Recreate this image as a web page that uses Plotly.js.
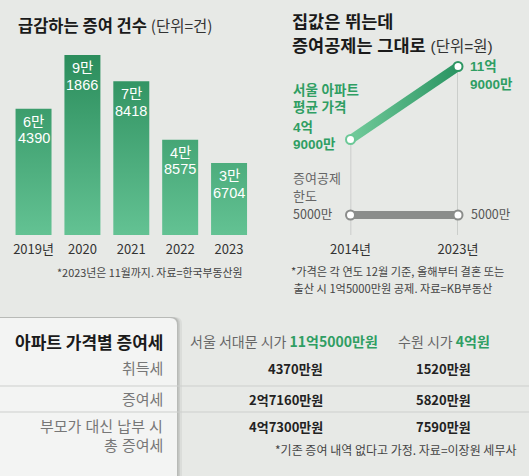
<!DOCTYPE html>
<html>
<head>
<meta charset="utf-8">
<script src="https://cdn.plot.ly/plotly-3.0.1.min.js"></script>
<style>
  html, body { margin: 0; padding: 0; background: #e7e9e6; }
  #chart { width: 529px; height: 476px; }
</style>
</head>
<body>
<div id="chart"></div>
<script>
// 연도별 증여 건수 (단위=건)
const years = ['2019', '2020', '2021', '2022', '2023'];
const yearTicks = ['2019년', '2020', '2021', '2022', '2023'];
const giftCounts = [64390, 91866, 78418, 48575, 36704];

// 서울 아파트 평균 가격과 증여공제 한도 (단위=만원)
const priceYears = [2014, 2023];
const priceTicks = ['2014년', '2023년'];
const seoulAptPrice = [49000, 119000];
const giftDeduction = [5000, 5000];

// 아파트 가격별 증여세 (단위=만원)
const taxRows = [['취득세'], ['증여세'], ['부모가 대신 납부 시', '총 증여세']];
const aptNames = ['서울 서대문 시가', '수원 시가'];
const aptPrices = [115000, 40000];
const seodaemunTax = [4370, 27160, 47300];
const suwonTax = [1520, 5820, 7590];

const W = 529, H = 476;
const px = x => x / W;
const py = y => 1 - y / H;

const FONT = 'Noto Sans CJK KR, Noto Sans, sans-serif';
// 촘촘한 여러 줄 라벨용: 숫자는 라틴 글꼴, 한글은 CJK 글꼴로
const MIX = 'Liberation Sans, Noto Sans CJK KR, sans-serif';
const GREEN = '#2f9e63';

function wonParts(v) {
  const eok = Math.floor(v / 10000), man = v % 10000;
  if (eok === 0) return [man + '만'];
  return man ? [eok + '억', man + '만'] : [eok + '억'];
}
const wonLabel = v => wonParts(v).join('');

// 막대 차트 배치
const barBottom = 235, barTopRef = 55;          // 가장 큰 막대의 윗변 위치
const yMax = 100000;
const yTopPx = barBottom - (barBottom - barTopRef) * yMax / Math.max(...giftCounts);

// 선 차트 배치 (가격축)
const lineBottom = 235, lineTop = 60;
const pLow = 139.5, pHigh = 66.5;               // 가격 두 점의 세로 위치
const perPx = (seoulAptPrice[1] - seoulAptPrice[0]) / (pLow - pHigh);
const priceMin = seoulAptPrice[0] - (lineBottom - pLow) * perPx;
const priceMax = seoulAptPrice[1] + (pHigh - lineTop) * perPx;
// 공제 한도 축
const dedY = 215;
const dedMax = giftDeduction[0] * (lineBottom - lineTop) / (lineBottom - dedY);

const traces = [
  {
    type: 'bar', x: years, y: giftCounts, xaxis: 'x', yaxis: 'y',
    marker: { color: '#3fa572', line: { width: 0 } },
    hoverinfo: 'skip'
  },
  {
    type: 'scatter', mode: 'lines+markers', x: priceYears, y: seoulAptPrice,
    xaxis: 'x2', yaxis: 'y2', cliponaxis: false,
    line: { color: '#45ad78', width: 9 },
    marker: { size: 9, color: '#ffffff', line: { width: 2, color: ['#6cc897', '#2e9663'] } },
    hoverinfo: 'skip'
  },
  {
    type: 'scatter', mode: 'lines+markers', x: priceYears, y: giftDeduction,
    xaxis: 'x2', yaxis: 'y3', cliponaxis: false,
    line: { color: '#8b8d8b', width: 8 },
    marker: { size: 9, color: '#ffffff', line: { width: 2, color: '#8b8d8b' } },
    hoverinfo: 'skip'
  }
];

const shapes = [];
// 각 연도 가격에서 내려오는 세로선
priceYears.forEach((yr, i) => {
  shapes.push({
    type: 'line', xref: 'x2', yref: 'y2', layer: 'below',
    x0: yr, x1: yr, y0: seoulAptPrice[i], y1: priceMin,
    line: { color: '#c2c4c2', width: 1.5 }
  });
});

// 표: 왼쪽 패널 그림자와 패널
const pl = 0, pr = 177, pt = 318, pb = 476, rad = 7;
function panelPath(dy, extra) {
  const r = px(pr + extra), t = py(pt + dy), b = py(pb), l = px(pl);
  const rx = rad / W, ry = rad / H;
  return `M ${l},${b} L ${l},${t} L ${r - rx},${t} Q ${r},${t} ${r},${t - ry} L ${r},${b} Z`;
}
[[5, 0.05], [3, 0.07], [1.5, 0.09]].forEach(([o, a]) => {
  shapes.push({
    type: 'path', xref: 'paper', yref: 'paper', layer: 'below',
    path: panelPath(-1, o), fillcolor: `rgba(0,0,0,${a})`, line: { width: 0 }
  });
});
shapes.push({
  type: 'path', xref: 'paper', yref: 'paper', layer: 'below',
  path: panelPath(0, 0), fillcolor: '#f3f4f3', line: { width: 0 }
});
// 표 행 구분선
[386, 412].forEach(y => {
  shapes.push({
    type: 'line', xref: 'paper', yref: 'paper', layer: 'below',
    x0: 0, x1: 1, y0: py(y), y1: py(y),
    line: { color: '#cdcfcd', width: 1 }
  });
});

const ann = [];
function A(text, x, y, opts) {
  ann.push(Object.assign({
    text, x: px(x), y: py(y), xref: 'paper', yref: 'paper',
    xanchor: 'left', yanchor: 'middle', showarrow: false,
    font: { family: FONT, size: 13, color: '#222' }
  }, opts || {}));
}
// 여러 줄 라벨은 줄마다 따로 놓는다
function lines(arr, x, yFirst, gap, opts) {
  arr.forEach((t, k) => A(t, x, yFirst + k * gap, opts));
}

// 막대 안쪽 값 (만 단위 / 나머지)
giftCounts.forEach((v, i) => {
  const parts = [Math.floor(v / 10000) + '만', String(v % 10000).padStart(4, '0')];
  parts.forEach((t, k) => {
    ann.push({
      text: t, x: i, y: v, xref: 'x', yref: 'y', xanchor: 'center', yanchor: 'top',
      yshift: -3 - k * 16.5, showarrow: false,
      font: { family: MIX, size: 14.5, color: '#ffffff' }
    });
  });
});

// 제목
A('<b>급감하는 증여 건수</b> <span style="font-size:15.5px;color:#333">(단위=건)</span>', 16, 25,
  { font: { family: FONT, size: 16.5, color: '#1a1a1a' } });
A('*2023년은 11월까지. 자료=한국부동산원', 150, 272,
  { xanchor: 'center', font: { family: FONT, size: 10.9, color: '#444' } });

A('<b>집값은 뛰는데</b>', 290, 22, { font: { family: MIX, size: 17.5, color: '#1a1a1a' } });
A('<b>증여공제는 그대로</b> <span style="font-size:15.5px;color:#333">(단위=원)</span>', 290, 46,
  { font: { family: MIX, size: 17.5, color: '#1a1a1a' } });

// 선 차트 라벨
const greenBold = { font: { family: MIX, size: 13.5, color: GREEN } };
lines(['<b>서울 아파트</b>', '<b>평균 가격</b>'], 291, 90, 18, greenBold);
lines(wonParts(seoulAptPrice[0]).map(t => '<b>' + t + '</b>'), 291, 128, 16, greenBold);
lines(wonParts(seoulAptPrice[1]).map(t => '<b>' + t + '</b>'), 468, 67, 17, greenBold);
lines(['증여공제', '한도'], 291, 178, 18, { font: { family: MIX, size: 13, color: '#666' } });
A(wonLabel(giftDeduction[0]), 291, 214, { font: { family: FONT, size: 12.5, color: '#555' } });
A(wonLabel(giftDeduction[1]), 469, 214, { font: { family: FONT, size: 12.5, color: '#555' } });
lines(['*가격은 각 연도 12월 기준, 올해부터 결혼 또는', ' 출산 시 1억5000만원 공제. 자료=KB부동산'],
  289, 271, 17, { font: { family: FONT, size: 11.2, color: '#444' } });

// 표
A('<b>아파트 가격별 증여세</b>', 165, 341, { xanchor: 'right', font: { family: FONT, size: 17, color: '#1a1a1a' } });
const headCenters = [284, 444];
aptNames.forEach((n, i) => {
  A(n + ' <b><span style="color:' + GREEN + '">' + wonLabel(aptPrices[i]) + '원</span></b>',
    headCenters[i], 341, { xanchor: 'center', font: { family: FONT, size: 14, color: '#666' } });
});
const rowY = [368, 399, 426];
const valRight = [325, 473];
taxRows.forEach((r, i) => {
  lines(r, 165, rowY[i], 19, { xanchor: 'right', font: { family: MIX, size: 15, color: '#777' } });
  A('<b>' + wonLabel(seodaemunTax[i]) + '원</b>', valRight[0], rowY[i],
    { xanchor: 'right', font: { family: FONT, size: 13, color: '#222' } });
  A('<b>' + wonLabel(suwonTax[i]) + '원</b>', valRight[1], rowY[i],
    { xanchor: 'right', font: { family: FONT, size: 13, color: '#222' } });
});
A('*기존 증여 내역 없다고 가정. 자료=이장원 세무사', 396, 449,
  { xanchor: 'center', font: { family: FONT, size: 12, color: '#444' } });

const layout = {
  width: W, height: H,
  margin: { l: 0, r: 0, t: 0, b: 0 },
  paper_bgcolor: '#e7e9e6', plot_bgcolor: 'rgba(0,0,0,0)',
  showlegend: false, bargap: 0.264,
  font: { family: FONT, size: 13, color: '#333' },
  xaxis: {
    domain: [px(9.1), px(253.5)], type: 'category', range: [-0.5, 4.5],
    tickvals: years, ticktext: yearTicks, showgrid: false, zeroline: false,
    showline: false, ticks: '', ticklabelstandoff: 5,
    tickfont: { family: FONT, size: 13, color: '#333' }, fixedrange: true
  },
  yaxis: {
    domain: [py(barBottom), py(yTopPx)], range: [0, yMax],
    visible: false, fixedrange: true
  },
  xaxis2: {
    domain: [px(350.5), px(458)], range: [priceYears[0], priceYears[1]], anchor: 'y2',
    tickvals: priceYears, ticktext: priceTicks, showgrid: false, zeroline: false,
    showline: false, ticks: '', ticklabelstandoff: 5,
    tickfont: { family: FONT, size: 13, color: '#333' }, fixedrange: true
  },
  yaxis2: {
    domain: [py(lineBottom), py(lineTop)], range: [priceMin, priceMax], anchor: 'x2',
    visible: false, fixedrange: true
  },
  yaxis3: {
    overlaying: 'y2', range: [0, dedMax], anchor: 'x2', visible: false, fixedrange: true
  },
  shapes, annotations: ann
};

Plotly.newPlot('chart', traces, layout, { staticPlot: true }).then(gd => {
  // 막대와 가격선에 그라데이션 적용
  const NS = 'http://www.w3.org/2000/svg';
  const svg = gd.querySelector('svg.main-svg');
  const defs = document.createElementNS(NS, 'defs');
  svg.insertBefore(defs, svg.firstChild);
  function grad(id, attrs, stops) {
    const g = document.createElementNS(NS, 'linearGradient');
    g.setAttribute('id', id);
    Object.entries(attrs).forEach(([k, v]) => g.setAttribute(k, v));
    stops.forEach(([o, c]) => {
      const s = document.createElementNS(NS, 'stop');
      s.setAttribute('offset', o); s.setAttribute('stop-color', c);
      g.appendChild(s);
    });
    defs.appendChild(g);
  }
  const ya = gd._fullLayout.yaxis;
  grad('barGrad', { gradientUnits: 'userSpaceOnUse', x1: 0, x2: 0,
    y1: ya.l2p(Math.max(...giftCounts)), y2: ya.l2p(0) },
    [[0, '#2b8d5c'], [1, '#63c293']]);
  grad('lineGrad', { x1: 0, y1: 0, x2: 1, y2: 0 },
    [[0, '#72cb9b'], [1, '#2a9462']]);
  gd.querySelectorAll('.barlayer .point path').forEach(p => { p.style.fill = 'url(#barGrad)'; });
  const tr = gd.querySelectorAll('.scatterlayer .trace');
  if (tr[0]) {
    const lp = tr[0].querySelector('.js-line');
    if (lp) lp.style.stroke = 'url(#lineGrad)';
  }
});
</script>
</body>
</html>
